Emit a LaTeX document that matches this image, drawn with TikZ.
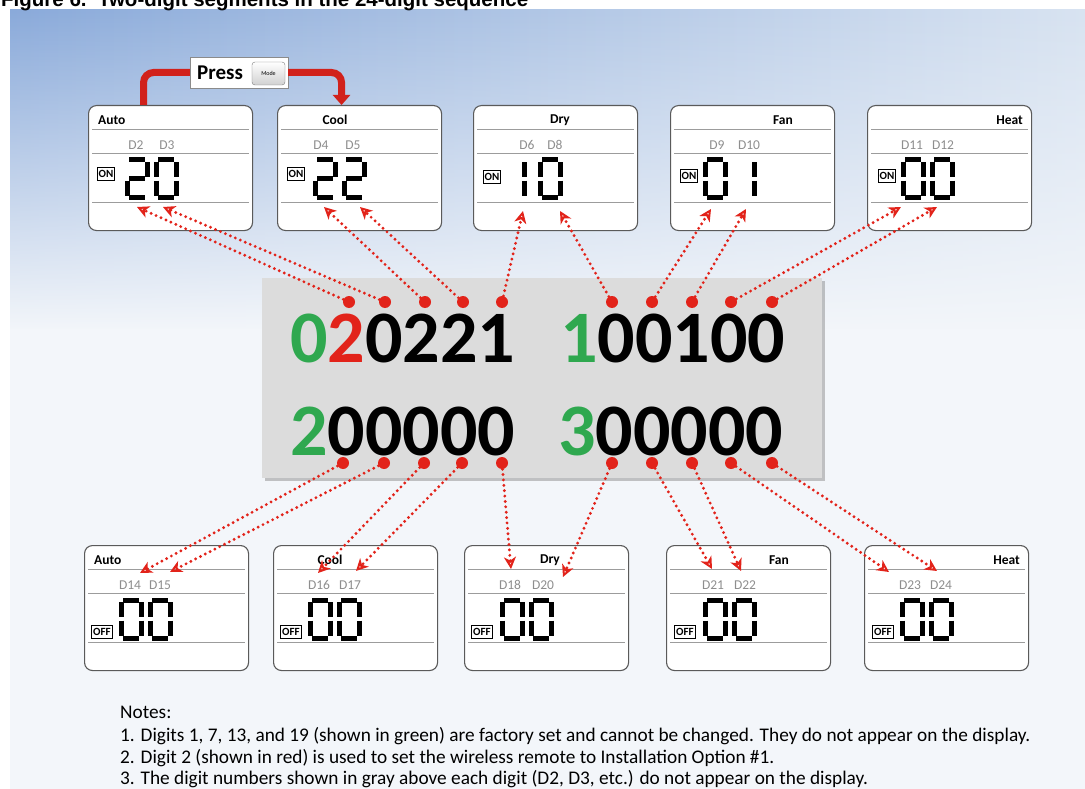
\documentclass[tikz,border=0pt]{standalone}
\usepackage{fontspec}
\setmainfont{Carlito}
\newfontfamily\figfont{Liberation Sans}
\usetikzlibrary{arrows.meta,calc,shadows,fadings}
\definecolor{RMSkyDeep}{HTML}{8AAADA}
\definecolor{RMSkyLight}{HTML}{D8E3F1}
\definecolor{RMPale}{HTML}{F3F6FA}
\definecolor{RMRed}{HTML}{E2231A}
\definecolor{RMArrow}{HTML}{D1211B}
\definecolor{RMGreen}{HTML}{2FA84F}
\definecolor{RMPanel}{HTML}{DCDCDC}
\definecolor{RMFrame}{HTML}{5A5A5A}
\definecolor{RMRule}{HTML}{9C9C9C}
\definecolor{RMTag}{HTML}{8E8E8E}
\tikzfading[name=skyfade,top color=transparent!100,bottom color=transparent!0]

% lcd segments of one cell, 20 x 38
\def\lcdZero{2.4/0/17.6/0,20/2.2/20/17.4,20/20.6/20/35.8,2.4/38/17.6/38,0/20.6/0/35.8,0/2.2/0/17.4}
\def\lcdOne{20/2.2/20/17.4,20/20.6/20/35.8}
\def\lcdTwo{2.4/0/17.6/0,20/2.2/20/17.4,2.4/19/17.6/19,0/20.6/0/35.8,2.4/38/17.6/38}
\newcommand\lcdglyph[3]{%
  \edef\lcdlist{#3}%
  \foreach \xa/\ya/\xb/\yb in \lcdlist {\draw[lcdseg] (#1+\xa,#2+\ya) -- (#1+\xb,#2+\yb);}}

\begin{document}
\begin{tikzpicture}[x=1pt,y=-1pt,
  lcdframe/.style={draw=RMFrame,line width=1.1pt,rounded corners=8pt,fill=white,minimum width=164pt,minimum height=125pt,inner sep=0pt},
  lcdrule/.style={draw=RMRule,line width=.8pt},
  lcdseg/.style={draw=black,line width=5pt},
  lcdtitle/.style={font=\fontsize{13.5}{14}\selectfont\bfseries,inner sep=0pt},
  dtag/.style={font=\fontsize{13.5}{14}\selectfont,text=RMTag,inner sep=0pt},
  statetag/.style={draw=black,line width=1pt,font=\fontsize{11}{11}\selectfont\bfseries,inner sep=1.4pt,minimum height=13pt},
  pindot/.style={circle,fill=RMRed,minimum size=12pt,inner sep=0pt},
  dotlink/.style={draw=RMRed,line width=3.2pt,line cap=round,dash pattern=on 0pt off 5.4pt,-{Stealth[open,length=12pt,width=12pt,inset=3.5pt,line width=2pt]}},
  modearrow/.style={draw=RMArrow,line width=7pt,rounded corners=10pt},
  modekey/.style={draw=RMFrame!80,rounded corners=3pt,top color=white,bottom color=black!18,minimum width=33pt,minimum height=23pt,font=\fontsize{6}{6}\selectfont,inner sep=0pt},
  seqtext/.style={font=\fontsize{74}{74}\selectfont\bfseries,inner sep=0pt,anchor=base west},
  notetext/.style={font=\fontsize{19.3}{21}\selectfont,inner sep=0pt,anchor=west},
]
\path[use as bounding box] (0,0) rectangle (1085,789);
\fill[white] (0,0) rectangle (1085,789);
\shade[left color=RMSkyDeep,right color=RMSkyLight] (10,10) rectangle (1085,789);
\fill[RMPale,path fading=skyfade] (10,10) rectangle (1085,330);
\fill[RMPale] (10,329) rectangle (1085,789);
\node[font={\figfont\bfseries\fontsize{20.5}{21}\selectfont},anchor=base west,inner sep=0pt] (figtitle) at (1,7) {Figure 6.\ \ Two-digit segments in the 24-digit sequence};

% display frames
\foreach \nm/\bx/\by in {autoT/88/105,coolT/277/105,dryT/473/105,fanT/670/105,heatT/867/105,autoB/84/545,coolB/273/545,dryB/464/545,fanB/666/545,heatB/864/545} {
  \node[lcdframe,anchor=north west] (\nm) at (\bx,\by) {};
  \foreach \ry in {24,48,97}
    \draw[lcdrule] ($(\nm.north west)+(4,\ry)$) -- ($(\nm.north east)+(-4,\ry)$);
}
\foreach \nm/\ta/\tx/\ty/\ttl in {autoT/west/98/120/Auto,coolT/center/335/120/Cool,dryT/center/560/120/Dry,fanT/center/783/120/Fan,heatT/east/1023/120/Heat,autoB/west/94/560/Auto,coolB/center/330/560/Cool,dryB/center/550/560/Dry,fanB/center/779/560/Fan,heatB/east/1020/560/Heat}
  \node[lcdtitle,anchor=\ta] (\nm-title) at (\tx,\ty) {\ttl};
\foreach \nm/\sx/\sy/\st in {autoT/106/174/ON,coolT/296/174/ON,dryT/492/177/ON,fanT/689/176/ON,heatT/887/176/ON,autoB/102/632/OFF,coolB/291/632/OFF,dryB/482/632/OFF,fanB/685/632/OFF,heatB/883/632/OFF}
  \node[statetag] (\nm-state) at (\sx,\sy) {\st};

% lcd digits with their gray tags
\foreach \gx/\gy/\gd/\tg/\tx in {127/160/\lcdTwo/D2/136,156/160/\lcdZero/D3/167,315/160/\lcdTwo/D4/321,344/160/\lcdTwo/D5/353,504/160/\lcdOne/D6/527,540/160/\lcdZero/D8/555,705/160/\lcdZero/D9/717,734/160/\lcdOne/D10/749,903/160/\lcdZero/D11/912,932/160/\lcdZero/D12/943,121/600/\lcdZero/D14/130,150/600/\lcdZero/D15/160,310/600/\lcdZero/D16/319,339/600/\lcdZero/D17/350,502/600/\lcdZero/D18/510,531/600/\lcdZero/D20/543,705/600/\lcdZero/D21/713,734/600/\lcdZero/D22/745,902/600/\lcdZero/D23/910,931/600/\lcdZero/D24/941} {
  \lcdglyph{\gx}{\gy}{\gd}
  \node[dtag] (tag\tg) at (\tx,\gy-15) {\tg};
}

% mode key
\node[draw=RMFrame!70,fill=white,minimum width=98pt,minimum height=31pt,inner sep=0pt] (press) at (239,72.5) {};
\node[font=\fontsize{21}{21}\selectfont\bfseries,anchor=west,inner sep=0pt] (presstxt) at (197,73) {Press};
\node[modekey] (modekey) at (268.5,73.5) {Mode};
\draw[modearrow] ([xshift=-27pt]autoT.north) |- (press.west);
\draw[modearrow,-{Triangle[length=10pt,width=17pt]}] (press.east) -| ([xshift=-18pt]coolT.north);

% code panel
\node[fill=RMPanel,drop shadow={shadow xshift=3pt,shadow yshift=-3pt,opacity=.45},minimum width=560pt,minimum height=200pt,inner sep=0pt] (panel) at (542,378) {};
\node[seqtext] (seqA) at (290,362) {\textcolor{RMGreen}{0}\textcolor{RMRed}{2}0221};
\node[seqtext] (seqB) at (560,362) {\textcolor{RMGreen}{1}00100};
\node[seqtext] (seqC) at (290,455) {\textcolor{RMGreen}{2}00000};
\node[seqtext] (seqD) at (558,455) {\textcolor{RMGreen}{3}00000};

% pins
\foreach \dn/\dx in {t1/349,t2/385,t3/425,t4/463,t5/502,t6/612,t7/652,t8/692,t9/731,t10/772}
  \node[pindot] (\dn) at (\dx,302) {};
\foreach \dn/\dx in {b1/343,b2/384,b3/424,b4/462,b5/502,b6/612,b7/652,b8/692,b9/731,b10/772}
  \node[pindot] (\dn) at (\dx,463) {};

% arrow ends
\coordinate (tipD2) at (137,207);
\coordinate (tipD3) at (163,207);
\coordinate (tipD4) at (324,207);
\coordinate (tipD5) at (360,207);
\coordinate (tipD6) at (523,211);
\coordinate (tipD8) at (560,211);
\coordinate (tipD9) at (711,209);
\coordinate (tipD10) at (746,209);
\coordinate (tipD11) at (901,207);
\coordinate (tipD12) at (937,207);
\coordinate (tipD14) at (140,573);
\coordinate (tipD15) at (170,572);
\coordinate (tipD16) at (318,573);
\coordinate (tipD17) at (356,571);
\coordinate (tipD18) at (511,569);
\coordinate (tipD20) at (563,577);
\coordinate (tipD21) at (712,569);
\coordinate (tipD22) at (741,571);
\coordinate (tipD23) at (889,572);
\coordinate (tipD24) at (937,571);
\foreach \from/\to in {t1/tipD2,t2/tipD3,t3/tipD4,t4/tipD5,t5/tipD6,t6/tipD8,t7/tipD9,t8/tipD10,t9/tipD11,t10/tipD12,b1/tipD14,b2/tipD15,b3/tipD16,b4/tipD17,b5/tipD18,b6/tipD20,b7/tipD21,b8/tipD22,b9/tipD23,b10/tipD24}
  \draw[dotlink] (\from) -- (\to);

% notes
\node[notetext] (notehead) at (120,712) {Notes:};
\node[notetext] (note1) at (120,736) {1. Digits 1, 7, 13, and 19 (shown in green) are factory set and cannot be changed. They do not appear on the display.};
\node[notetext] (note2) at (120,758) {2. Digit 2 (shown in red) is used to set the wireless remote to Installation Option \#1.};
\node[notetext] (note3) at (120,779) {3. The digit numbers shown in gray above each digit (D2, D3, etc.) do not appear on the display.};
\end{tikzpicture}
\end{document}
